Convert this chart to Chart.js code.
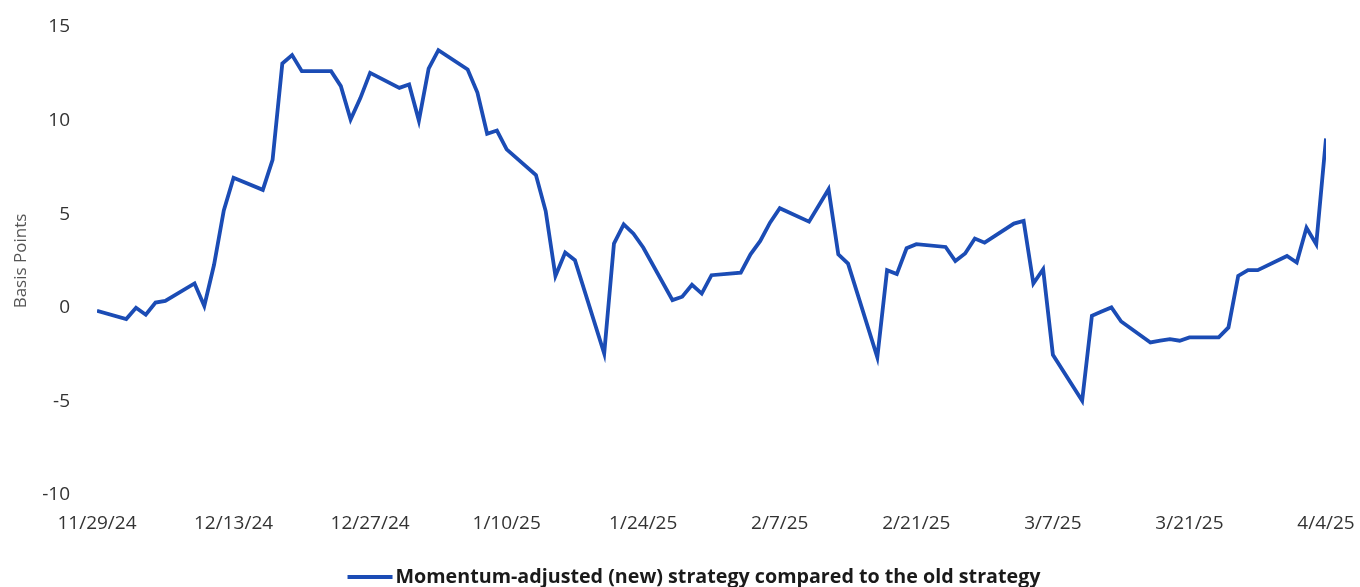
<!DOCTYPE html>
<html>
<head>
<meta charset="utf-8">
<script src="https://cdn.jsdelivr.net/npm/chart.js@4/dist/chart.umd.min.js"></script>
<style>
  html, body { margin: 0; padding: 0; background: #ffffff; }
  #wrap { width: 1360px; height: 587px; position: relative; }
</style>
</head>
<body>
<div id="wrap"><canvas id="c" width="1360" height="587"></canvas></div>
<script>
// Dates (all weekdays) and values in basis points
const dates = [
  '2024-11-29',
  '2024-12-02','2024-12-03','2024-12-04','2024-12-05','2024-12-06',
  '2024-12-09','2024-12-10','2024-12-11','2024-12-12','2024-12-13',
  '2024-12-16','2024-12-17','2024-12-18','2024-12-19','2024-12-20',
  '2024-12-23','2024-12-24','2024-12-25','2024-12-26','2024-12-27',
  '2024-12-30','2024-12-31','2025-01-01','2025-01-02','2025-01-03',
  '2025-01-06','2025-01-07','2025-01-08','2025-01-09','2025-01-10',
  '2025-01-13','2025-01-14','2025-01-15','2025-01-16','2025-01-17',
  '2025-01-20','2025-01-21','2025-01-22','2025-01-23','2025-01-24',
  '2025-01-27','2025-01-28','2025-01-29','2025-01-30','2025-01-31',
  '2025-02-03','2025-02-04','2025-02-05','2025-02-06','2025-02-07',
  '2025-02-10','2025-02-11','2025-02-12','2025-02-13','2025-02-14',
  '2025-02-17','2025-02-18','2025-02-19','2025-02-20','2025-02-21',
  '2025-02-24','2025-02-25','2025-02-26','2025-02-27','2025-02-28',
  '2025-03-03','2025-03-04','2025-03-05','2025-03-06','2025-03-07',
  '2025-03-10','2025-03-11','2025-03-12','2025-03-13','2025-03-14',
  '2025-03-17','2025-03-18','2025-03-19','2025-03-20','2025-03-21',
  '2025-03-24','2025-03-25','2025-03-26','2025-03-27','2025-03-28',
  '2025-03-31','2025-04-01','2025-04-02','2025-04-03','2025-04-04'
];
const values = [
  -0.16,
  -0.60, 0.00, -0.37, 0.28, 0.37,
  1.30, 0.10, 2.30, 5.20, 6.95,
  6.30, 7.90, 13.05, 13.50, 12.64,
  12.64, 11.84, 10.06, 11.20, 12.55,
  11.75, 11.93, 10.00, 12.78, 13.76,
  12.73, 11.50, 9.30, 9.47, 8.46,
  7.09, 5.17, 1.70, 2.95, 2.54,
  -2.44, 3.43, 4.46, 3.96, 3.22,
  0.41, 0.59, 1.23, 0.76, 1.74,
  1.88, 2.86, 3.57, 4.55, 5.32,
  4.60, 5.46, 6.33, 2.86, 2.36,
  -2.65, 2.01, 1.80, 3.18, 3.40,
  3.25, 2.50, 2.90, 3.70, 3.48,
  4.50, 4.64, 1.30, 2.06, -2.51,
  -4.96, -0.43, -0.20, 0.02, -0.73,
  -1.85, -1.76, -1.67, -1.76, -1.58,
  -1.58, -1.05, 1.70, 2.01, 2.01,
  2.77, 2.42, 4.28, 3.40, 9.05
];
const seriesLabel = 'Momentum-adjusted (new) strategy compared to the old strategy';
const yAxisTitle = 'Basis Points';
const yTicks = [-10, -5, 0, 5, 10, 15];
const xTickDates = ['2024-11-29','2024-12-13','2024-12-27','2025-01-10','2025-01-24',
                    '2025-02-07','2025-02-21','2025-03-07','2025-03-21','2025-04-04'];

const DAY = 86400000;
function toUTC(s) { const p = s.split('-').map(Number); return Date.UTC(p[0], p[1] - 1, p[2]); }
const t0 = toUTC(dates[0]);
function dayOffset(s) { return Math.round((toUTC(s) - t0) / DAY); }
function fmt(off) {
  const d = new Date(t0 + off * DAY);
  return (d.getUTCMonth() + 1) + '/' + d.getUTCDate() + '/' + String(d.getUTCFullYear()).slice(2);
}
const points = dates.map((d, i) => ({ x: dayOffset(d), y: values[i] }));
const xTickOffsets = xTickDates.map(dayOffset);

const COLOR = '#1B4CB5';
const FONT = "'Open Sans', 'Noto Sans', sans-serif";

// Legend drawn under the x axis: a short line sample followed by the bold series name
const bottomLegend = {
  id: 'bottomLegend',
  afterDraw(chart) {
    const ctx = chart.ctx;
    const ds = chart.data.datasets[0];
    ctx.save();
    ctx.font = "bold 19.7px 'Open Sans', 'Noto Sans', sans-serif";
    const tw = ctx.measureText(ds.label).width;
    const lineLen = 45, gap = 3;
    const total = lineLen + gap + tw;
    const cx = 694, cy = 577;
    const x0 = cx - total / 2;
    ctx.fillStyle = ds.borderColor;
    ctx.fillRect(x0, cy - 2, lineLen, 4);
    ctx.fillStyle = '#1a1a1a';
    ctx.textBaseline = 'middle';
    ctx.textAlign = 'left';
    ctx.fillText(ds.label, x0 + lineLen + gap, cy);
    ctx.restore();
  }
};

new Chart(document.getElementById('c'), {
  type: 'line',
  data: {
    datasets: [{
      label: seriesLabel,
      data: points,
      borderColor: COLOR,
      backgroundColor: COLOR,
      borderWidth: 3.8,
      pointRadius: 0,
      tension: 0,
      fill: false
    }]
  },
  plugins: [bottomLegend],
  options: {
    responsive: false,
    animation: false,
    devicePixelRatio: 1,
    layout: { padding: { left: 0, right: 34, top: 27, bottom: 20 } },
    plugins: {
      tooltip: { enabled: false },
      legend: { display: false }
    },
    scales: {
      x: {
        type: 'linear',
        min: xTickOffsets[0],
        max: xTickOffsets[xTickOffsets.length - 1],
        grid: { display: false, drawTicks: false },
        border: { display: false },
        afterBuildTicks: (scale) => { scale.ticks = xTickOffsets.map(v => ({ value: v })); },
        afterFit: (scale) => {
          scale.height = 72;
          scale.paddingLeft = 0; scale.paddingRight = 0;
        },
        ticks: {
          autoSkip: false,
          maxRotation: 0,
          padding: 17,
          color: '#333333',
          font: { family: FONT, size: 19 },
          callback: (v) => fmt(v)
        }
      },
      y: {
        min: yTicks[0],
        max: yTicks[yTicks.length - 1],
        grid: { display: false, drawTicks: false },
        border: { display: false },
        afterBuildTicks: (scale) => { scale.ticks = yTicks.map(v => ({ value: v })); },
        afterFit: (scale) => {
          scale.width = 97;
          scale.paddingTop = 0; scale.paddingBottom = 0;
        },
        title: {
          display: true,
          text: yAxisTitle,
          color: '#555555',
          padding: { top: 11, bottom: 0 },
          font: { family: FONT, size: 17 }
        },
        ticks: {
          padding: 27,
          color: '#333333',
          font: { family: FONT, size: 19 }
        }
      }
    }
  }
});
</script>
</body>
</html>
